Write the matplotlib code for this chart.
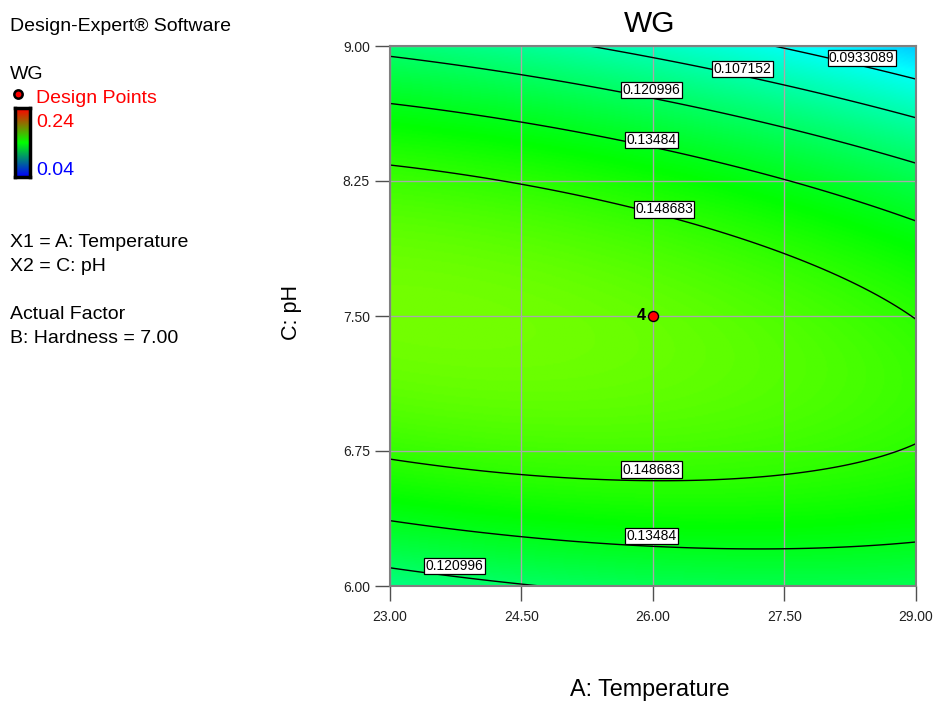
import numpy as np
import matplotlib
matplotlib.use('Agg')
import matplotlib.pyplot as plt
from matplotlib.colors import LinearSegmentedColormap
from matplotlib.lines import Line2D

plt.rcParams['font.family'] = ['Liberation Sans', 'DejaVu Sans']

# Quadratic response-surface model for WG (coded units)
# WG = b0 + bA*x + bC*y + bAC*x*y + bAA*x^2 + bCC*y^2, x=(A-26)/3, y=(C-7.5)/1.5
b0, bA, bC, bAC, bAA, bCC = 0.159425, -0.006965, -0.010508, -0.011853, -0.004048, -0.046096
temp_range = [23.0, 29.0]
ph_range = [6.0, 9.0]
temp_center, temp_half = 26.0, 3.0
ph_center, ph_half = 7.5, 1.5

levels = [0.0933089, 0.107152, 0.120996, 0.13484, 0.148683]
level_text = ['0.0933089', '0.107152', '0.120996', '0.13484', '0.148683']
# label box centres (temperature, pH) and the level each one belongs to
label_T = [28.38, 27.02, 25.98, 25.98, 26.125, 25.98, 25.98, 23.736]
label_pH = [8.933, 8.872, 8.756, 8.478, 8.092, 6.647, 6.278, 6.111]
label_lv = ['0.0933089', '0.107152', '0.120996', '0.13484', '0.148683',
            '0.148683', '0.13484', '0.120996']

design_T = [26.0]
design_pH = [7.5]
design_count = ['4']

xticks = [23.0, 24.5, 26.0, 27.5, 29.0]
yticks = [6.0, 6.75, 7.5, 8.25, 9.0]
cbar_min, cbar_max = 0.04, 0.24

W, H = 937, 702
fig = plt.figure(figsize=(W/100, H/100), dpi=100)
ax = fig.add_axes([390/W, 1-586/H, 526/W, 540/H])

tt = np.linspace(*temp_range, 400)
pp = np.linspace(*ph_range, 400)
TT, PP = np.meshgrid(tt, pp)
xx = (TT - temp_center) / temp_half
yy = (PP - ph_center) / ph_half
Z = b0 + bA*xx + bC*yy + bAC*xx*yy + bAA*xx**2 + bCC*yy**2

cmap = LinearSegmentedColormap.from_list('de', ['#0000ff', '#00ffff', '#00ff00', '#ffff00', '#ff0000'])
ax.imshow(Z, extent=[*temp_range, *ph_range], origin='lower', aspect='auto',
          cmap=cmap, vmin=cbar_min, vmax=cbar_max, interpolation='bilinear', zorder=0)
cs = ax.contour(TT, PP, Z, levels=levels, colors='black', linewidths=1.0, zorder=2)

for lx, ly, s in zip(label_T, label_pH, label_lv):
    ax.text(lx, ly, s, fontsize=10, ha='center', va='center', zorder=4,
            bbox=dict(boxstyle='square,pad=0.1', fc='white', ec='black', lw=0.9))

ax.plot(design_T, design_pH, 'o', ms=7.2, mfc='#ff0000', mec='black', mew=1.0, zorder=6)
for xt, yp, c in zip(design_T, design_pH, design_count):
    ax.annotate(c, (xt, yp), xytext=(-5, 0), textcoords='offset points',
                ha='right', va='center', fontsize=11.5, fontweight='bold', zorder=6)

ax.set_xlim(*temp_range)
ax.set_ylim(*ph_range)
ax.set_xticks(xticks)
ax.set_yticks(yticks)
ax.set_xticklabels([f'{v:.2f}' for v in xticks])
ax.set_yticklabels([f'{v:.2f}' for v in yticks])
ax.tick_params(direction='out', length=10.5, width=1.0, color='#505050',
               labelsize=10, labelcolor='#202020')
ax.tick_params(axis='x', pad=7)
ax.tick_params(axis='y', pad=4)
ax.set_axisbelow('line')
ax.grid(True, color='#a8a8a8', lw=1.0)
for sp in ax.spines.values():
    sp.set_color('#808080')
    sp.set_linewidth(1.5)

fig.text(650/W, 1-32/H, 'WG', fontsize=21.5, ha='center', va='baseline')
fig.text(650/W, 1-696/H, 'A: Temperature', fontsize=16.8, ha='center', va='baseline')
fig.text(292/W, 1-313/H, 'C: pH', fontsize=15.5, ha='center', va='center', rotation=90)

# left info panel
fs = 14
fig.text(10/W, 1-31/H, 'Design-Expert® Software', fontsize=fs, va='baseline')
fig.text(10/W, 1-79/H, 'WG', fontsize=fs, va='baseline')
fig.add_artist(Line2D([17.7/W], [1-94/H], marker='o', ms=6, mfc='#ff0000', mec='black', mew=1.8,
                      transform=fig.transFigure))
fig.text(36/W, 1-103/H, 'Design Points', fontsize=fs, color='#ff0000', va='baseline')
fig.text(36/W, 1-127/H, f'{cbar_max:.2f}', fontsize=fs, color='#ff0000', va='baseline')
fig.text(36/W, 1-175/H, f'{cbar_min:.2f}', fontsize=fs, color='#0000ff', va='baseline')
cax = fig.add_axes([15/W, 1-177/H, 15/W, 69/H])
bar_cmap = LinearSegmentedColormap.from_list('bar', ['#0000ff', '#00ff00', '#ff0000'])
cax.imshow(np.linspace(0, 1, 100)[:, None], aspect='auto', origin='lower', cmap=bar_cmap)
cax.set_xticks([]); cax.set_yticks([])
for sp in cax.spines.values():
    sp.set_color('black')
    sp.set_linewidth(2.5)

fig.text(10/W, 1-247/H, 'X1 = A: Temperature', fontsize=fs, va='baseline')
fig.text(10/W, 1-271/H, 'X2 = C: pH', fontsize=fs, va='baseline')
fig.text(10/W, 1-319/H, 'Actual Factor', fontsize=fs, va='baseline')
fig.text(10/W, 1-343/H, 'B: Hardness = 7.00', fontsize=fs, va='baseline')

fig.savefig('out.png', dpi=100)
